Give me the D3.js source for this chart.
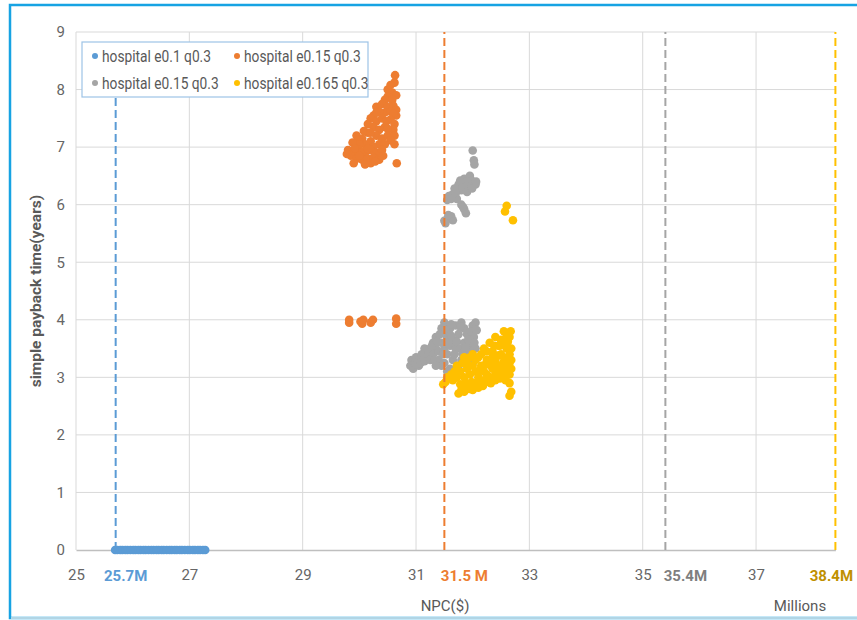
<!DOCTYPE html>
<html>
<head>
<meta charset="utf-8">
<script src="https://cdn.jsdelivr.net/npm/d3@7"></script>
<style>
  html, body { margin: 0; padding: 0; background: #fff; }
  svg { display: block; }
  text { font-family: "Roboto", "Liberation Sans", sans-serif; }
</style>
</head>
<body>
<svg id="chart" width="857" height="620"></svg>
<script>
// Series names and colours
const seriesNames = ["hospital e0.1 q0.3", "hospital e0.15 q0.3", "hospital e0.15 q0.3", "hospital e0.165 q0.3"];
const seriesColors = ["#5b9bd5", "#ed7d31", "#a5a5a5", "#ffc000"];

// NPC (millions $) vs simple payback time (years)
const hospitalE010 = [
  [25.69,0],[25.73,0],[25.78,0],[25.82,0],[25.87,0],[25.91,0],[25.96,0],[26.01,0],[26.05,0],
  [26.10,0],[26.14,0],[26.19,0],[26.23,0],[26.28,0],[26.33,0],[26.37,0],[26.42,0],[26.46,0],
  [26.51,0],[26.55,0],[26.60,0],[26.65,0],[26.69,0],[26.74,0],[26.78,0],[26.83,0],[26.87,0],
  [26.92,0],[26.97,0],[27.01,0],[27.06,0],[27.10,0],[27.15,0],[27.19,0],[27.24,0],[27.28,0]
];
const hospitalE015a = [
  [30.63,8.25],[30.62,8.12],[30.50,8.00],[30.58,7.95],[30.65,7.90],[30.50,7.88],[30.55,8.08],
  [30.45,7.82],[30.58,7.82],
  [30.30,7.70],[30.40,7.75],[30.50,7.70],[30.60,7.72],[30.65,7.65],[30.45,7.60],[30.55,7.62],
  [30.35,7.62],[30.25,7.55],[30.65,7.55],[30.60,7.58],[30.30,7.60],
  [30.20,7.50],[30.30,7.45],[30.40,7.50],[30.55,7.48],[30.62,7.40],[30.25,7.35],[30.45,7.35],
  [30.60,7.30],[30.48,7.45],[30.35,7.30],[30.15,7.40],[30.50,7.32],
  [29.95,7.20],[30.05,7.15],[30.15,7.25],[30.30,7.20],[30.40,7.15],[30.50,7.20],[30.62,7.20],
  [30.08,7.28],[30.20,7.25],[29.98,7.12],[30.55,7.12],
  [30.10,7.05],[30.20,7.10],[30.35,7.05],[30.62,7.05],[30.00,7.05],[29.88,7.08],[30.25,7.00],
  [30.45,7.05],
  [29.80,6.95],[29.90,6.90],[30.00,6.95],[30.10,6.90],[30.20,6.95],[30.30,6.90],[30.40,6.95],
  [29.92,6.98],[30.05,6.92],[30.15,6.97],
  [29.85,6.85],[29.95,6.80],[30.05,6.78],[30.15,6.80],[30.25,6.82],[30.35,6.78],[30.00,6.85],
  [30.42,6.85],[29.78,6.88],
  [29.90,6.72],[30.10,6.70],[30.20,6.72],[30.28,6.75],[30.66,6.72],
  [29.82,4.00],[29.82,3.95],[30.02,3.97],[30.05,3.93],[30.07,4.00],[30.20,3.95],[30.24,4.00],
  [30.65,4.02],[30.65,3.93]
];
const hospitalE015b = [
  [32.00,6.94],[32.02,6.77],[32.03,6.70],
  [31.95,6.50],[31.85,6.45],[31.90,6.35],[31.75,6.35],[32.05,6.35],[31.80,6.25],[31.70,6.20],
  [31.60,6.15],[31.95,6.30],[31.88,6.40],[31.78,6.42],[31.82,6.30],[31.68,6.28],[31.72,6.10],
  [31.98,6.42],[31.90,6.22],[31.65,6.18],[31.99,6.28],[32.06,6.40],
  [31.58,6.15],[31.55,6.08],[31.62,6.10],
  [31.80,6.00],[31.85,5.92],[31.88,5.85],[31.83,5.96],
  [31.50,5.72],[31.55,5.75],[31.62,5.80],[31.65,5.73],[31.52,5.68],[31.57,5.82],
  [30.90,3.20],[30.92,3.30],[30.98,3.25],[31.00,3.35],[31.05,3.30],[31.10,3.40],[31.12,3.30],
  [31.18,3.45],[31.20,3.35],[30.95,3.15],[31.05,3.20],[31.00,3.22],[31.08,3.25],[31.15,3.28],
  [31.15,3.50],[31.22,3.42],[31.25,3.30],
  [31.25,3.50],[31.30,3.40],[31.30,3.60],[31.35,3.50],[31.35,3.70],[31.40,3.45],[31.45,3.60],
  [31.45,3.85],[31.50,3.95],[31.50,3.50],[31.55,3.70],[31.55,3.40],[31.60,3.55],[31.60,3.85],
  [31.65,3.30],[31.65,3.65],[31.70,3.50],[31.70,3.90],[31.75,3.20],[31.75,3.75],[31.40,3.30],
  [31.50,3.25],[31.60,3.15],[31.55,3.10],[31.28,3.55],[31.32,3.30],[31.38,3.62],[31.42,3.75],
  [31.48,3.40],[31.52,3.82],[31.58,3.60],[31.62,3.72],[31.68,3.40],[31.72,3.62],[31.45,3.20],
  [31.35,3.20],[31.62,3.92],
  [31.80,3.95],[31.85,3.60],[31.85,3.85],[31.90,3.40],[31.90,3.75],[31.95,3.55],[31.95,3.30],
  [32.00,3.90],[32.02,3.70],[32.05,3.50],[32.05,3.95],[32.00,3.25],[31.80,3.30],[31.78,3.50],
  [31.82,3.42],[31.88,3.52],[31.92,3.65],[31.97,3.80],[32.03,3.60],[31.78,3.88],[31.97,3.42],
  [32.07,3.82]
];
const hospitalE0165 = [
  [32.60,5.98],[32.57,5.88],[32.71,5.73],
  [31.48,2.88],[31.52,2.92],[31.58,2.98],[31.62,3.05],[31.68,3.10],[31.65,2.95],[31.55,3.00],
  [31.72,3.00],
  [31.75,2.72],[31.80,2.78],[31.85,2.75],[31.90,2.82],[31.95,2.80],[32.00,2.78],[32.05,2.85],
  [32.10,2.82],[32.15,2.90],[32.20,2.95],[31.78,2.88],[31.88,2.90],[31.98,2.92],[32.08,2.92],
  [32.18,2.85],[32.25,2.92],[32.32,2.90],[32.40,2.95],[32.48,2.98],[32.58,2.95],[32.65,2.90],
  [31.72,3.20],[31.78,3.10],[31.85,3.00],[31.90,3.15],[31.95,3.05],[32.00,3.20],[32.05,3.10],
  [32.10,3.00],[32.15,3.20],[32.20,3.10],[32.25,3.05],[32.30,3.00],[32.35,3.15],[32.40,3.05],
  [32.45,3.20],[32.50,3.10],[32.55,3.00],[32.60,3.15],[32.65,3.05],[32.65,3.25],[32.12,3.12],
  [32.22,3.22],[32.32,3.20],[32.42,3.18],[32.52,3.22],[32.62,3.05],[31.90,3.25],[31.82,3.25],
  [31.85,3.35],[32.00,3.40],[32.10,3.35],[32.20,3.50],[32.25,3.30],[32.30,3.60],[32.35,3.45],
  [32.40,3.30],[32.45,3.55],[32.50,3.40],[32.55,3.65],[32.60,3.50],[32.65,3.40],[32.65,3.70],
  [32.67,3.80],[32.60,3.75],[32.50,3.65],[32.40,3.70],[32.30,3.30],[32.62,3.35],[32.55,3.28],
  [32.45,3.38],[32.35,3.35],[32.25,3.45],[32.15,3.40],[32.05,3.30],[31.95,3.35],[32.58,3.60],
  [32.48,3.55],[32.38,3.55],[32.55,3.80],[32.62,3.62],[32.68,3.50],[32.68,3.30],[32.68,3.15],
  [32.65,2.68],[32.68,2.75]
];
const seriesData = [hospitalE010, hospitalE015a, hospitalE015b, hospitalE0165];

// Reference NPC markers (millions $)
const refValues = [25.7, 31.5, 35.4, 38.4];
const refLabels = ["25.7M", "31.5 M", "35.4M", "38.4M"];
const refTops = [7.9, 9, 9, 9];
const refLineColors = ["#5b9bd5", "#ed7d31", "#a5a5a5", "#ffc000"];
const refLabelColors = ["#5b9bd5", "#ed7d31", "#7f7f7f", "#bf9000"];

// Axis ticks
const xTicks = [25, 27, 29, 31, 33, 35, 37];
const yTicks = [0, 1, 2, 3, 4, 5, 6, 7, 8, 9];

const svg = d3.select("#chart");

// Outer frame
svg.append("rect").attr("x", 10).attr("y", 5).attr("width", 900).attr("height", 613)
  .attr("fill", "#fff").attr("stroke", "#17a3e3").attr("stroke-width", 2.5);
svg.append("line").attr("x1", 11).attr("x2", 857).attr("y1", 618).attr("y2", 618)
  .attr("stroke", "#e6e6e6").attr("stroke-width", 1.5);

const x = d3.scaleLinear().domain([25, 38.4]).range([76, 835.4]);
const y = d3.scaleLinear().domain([0, 9]).range([550, 32]);

// Gridlines
const grid = svg.append("g");
grid.selectAll("line.v").data(xTicks).join("line")
  .attr("x1", d => x(d)).attr("x2", d => x(d))
  .attr("y1", y(0)).attr("y2", y(9))
  .attr("stroke", "#d9d9d9").attr("stroke-width", 1);
grid.selectAll("line.h").data(yTicks.filter(d => d > 0)).join("line")
  .attr("x1", x(25)).attr("x2", x(38.4))
  .attr("y1", d => y(d)).attr("y2", d => y(d))
  .attr("stroke", "#d9d9d9").attr("stroke-width", 1);

// X axis
const xAxis = svg.append("g").attr("transform", `translate(0,${y(0)})`)
  .call(d3.axisBottom(x).tickValues(xTicks).tickSize(0).tickPadding(19).tickFormat(d3.format("d")));
xAxis.select(".domain").attr("stroke", "#bfbfbf").attr("stroke-width", 1.5);
xAxis.selectAll("text").attr("fill", "#666").style("font-size", "15px");

// Y axis
const yAxis = svg.append("g").attr("transform", `translate(${x(25)},0)`)
  .call(d3.axisLeft(y).tickValues(yTicks).tickSize(0).tickPadding(11).tickFormat(d3.format("d")));
yAxis.select(".domain").remove();
yAxis.selectAll("text").attr("fill", "#666").style("font-size", "15px");

// Axis titles
svg.append("text").attr("transform", `translate(41,${(y(0) + y(9)) / 2}) rotate(-90)`)
  .attr("text-anchor", "middle").attr("fill", "#595959")
  .style("font-size", "15.5px").style("font-weight", "bold")
  .text("simple payback time(years)");
svg.append("text").attr("x", 445).attr("y", 611).attr("text-anchor", "middle")
  .attr("fill", "#595959").style("font-size", "15px").text("NPC($)");
svg.append("text").attr("x", 800).attr("y", 611).attr("text-anchor", "middle")
  .attr("fill", "#595959").style("font-size", "15px").text("Millions");

// Scatter points
seriesData.forEach((pts, i) => {
  svg.append("g").selectAll("circle").data(pts).join("circle")
    .attr("cx", d => x(d[0])).attr("cy", d => y(d[1])).attr("r", 4.3)
    .attr("fill", seriesColors[i]);
});

// Reference lines
refValues.forEach((v, i) => {
  svg.append("line")
    .attr("x1", x(v)).attr("x2", x(v))
    .attr("y1", y(0)).attr("y2", y(refTops[i]))
    .attr("stroke", refLineColors[i]).attr("stroke-width", 2)
    .attr("stroke-dasharray", "8,4");
});
const labelOffsets = [10, 20, 20, -4];
refValues.forEach((v, i) => {
  svg.append("text").attr("x", x(v) + labelOffsets[i]).attr("y", 581)
    .attr("text-anchor", "middle").attr("fill", refLabelColors[i])
    .style("font-size", "15px").style("font-weight", "bold")
    .text(refLabels[i]);
});

// Legend
const legend = svg.append("g");
legend.append("rect").attr("x", 82).attr("y", 42).attr("width", 286).attr("height", 55)
  .attr("fill", "#fff").attr("stroke", "#9dc3e6").attr("stroke-width", 1.2);
const legendPos = [[95, 56], [237, 56], [95, 83], [237, 83]];
seriesNames.forEach((name, i) => {
  const [lx, ly] = legendPos[i];
  legend.append("circle").attr("cx", lx).attr("cy", ly).attr("r", 3)
    .attr("fill", seriesColors[i]);
  legend.append("text")
    .attr("transform", `translate(${lx + 7},${ly + 5.5}) scale(0.86,1)`)
    .attr("fill", "#595959").style("font-size", "16px").text(name);
});
</script>
</body>
</html>
